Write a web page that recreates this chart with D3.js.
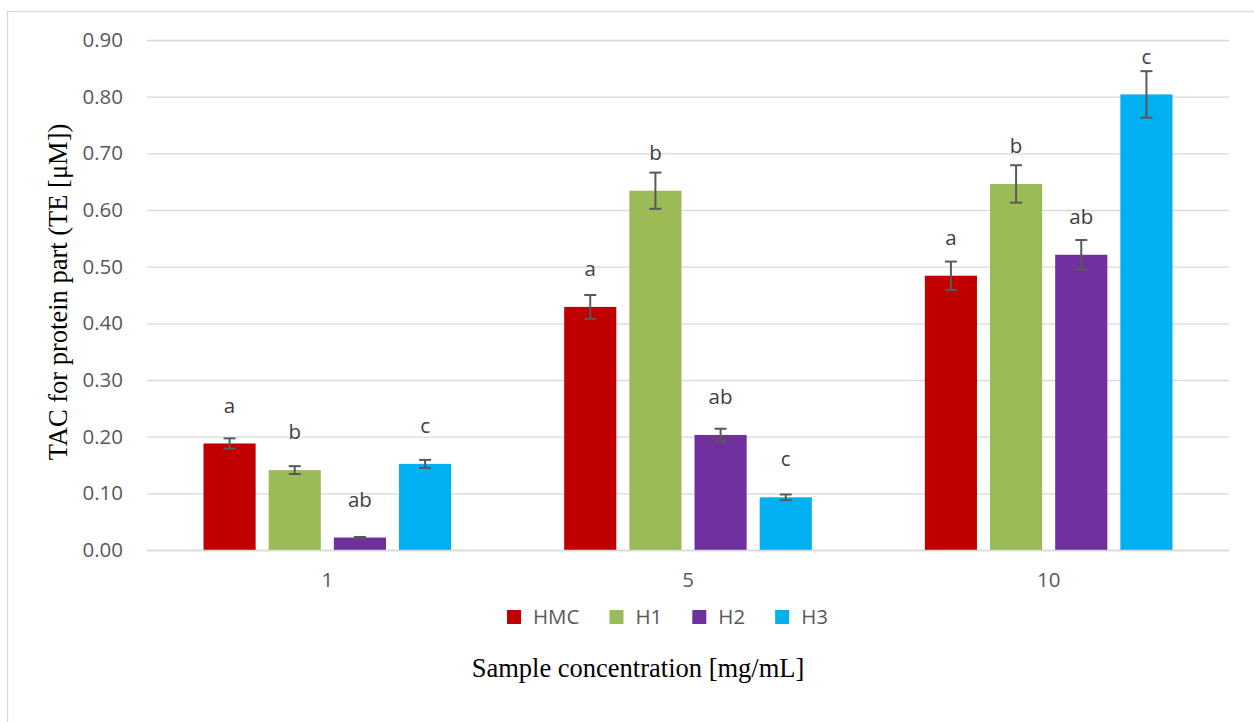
<!DOCTYPE html>
<html>
<head>
<meta charset="utf-8">
<script src="https://cdn.jsdelivr.net/npm/d3@7"></script>
<style>
  html, body { margin: 0; padding: 0; background: #fff; }
  svg { display: block; }
</style>
</head>
<body>
<svg id="chart" width="1254" height="722"></svg>
<script>
// ---- data ----
const categories = ["1", "5", "10"];
const seriesNames = ["HMC", "H1", "H2", "H3"];
const seriesColors = ["#C00000", "#9BBB59", "#7030A0", "#00B0F0"];
const valuesHMC = [0.188, 0.429, 0.484];
const valuesH1  = [0.141, 0.634, 0.646];
const valuesH2  = [0.022, 0.203, 0.521];
const valuesH3  = [0.152, 0.093, 0.804];
const errHMC = [0.009, 0.021, 0.025];
const errH1  = [0.007, 0.032, 0.033];
const errH2  = [0.001, 0.011, 0.026];
const errH3  = [0.007, 0.005, 0.041];
const letters = ["a", "b", "ab", "c"];
const yTicks = [0, 0.1, 0.2, 0.3, 0.4, 0.5, 0.6, 0.7, 0.8, 0.9];
const yTitle = "TAC for protein part (TE [μM])";
const xTitle = "Sample concentration [mg/mL]";

const values = [valuesHMC, valuesH1, valuesH2, valuesH3];
const errs = [errHMC, errH1, errH2, errH3];

// ---- layout ----
const svg = d3.select("#chart");
const plot = { left: 147, right: 1229, top: 40, bottom: 550 };
const sans = "'Open Sans', sans-serif";
const fs = "20.5px";

// outer border
svg.append("rect")
  .attr("x", 7.5).attr("y", 11.5)
  .attr("width", 1300).attr("height", 800)
  .attr("fill", "#fff").attr("stroke", "#d9d9d9").attr("stroke-width", 1.3);

const x0 = d3.scaleBand().domain(categories).range([plot.left, plot.right]).paddingInner(0).paddingOuter(0);
const x1 = d3.scaleBand().domain(seriesNames).range([56.5, x0.bandwidth() - 56.5]).paddingInner(0.2).paddingOuter(0);
const y = d3.scaleLinear().domain([0, 0.9]).range([plot.bottom, plot.top]);

// gridlines
const yAxis = d3.axisLeft(y).tickValues(yTicks).tickFormat(d3.format(".2f"))
  .tickSize(-(plot.right - plot.left)).tickPadding(24);
const gy = svg.append("g").attr("transform", `translate(${plot.left},0)`).call(yAxis);
gy.select(".domain").remove();
gy.selectAll(".tick line").attr("stroke", "#d9d9d9").attr("stroke-width", 1.3);
gy.selectAll(".tick text")
  .attr("fill", "#595959")
  .style("font-family", sans)
  .style("font-size", fs);

// bars
const groups = svg.append("g").selectAll("g")
  .data(categories)
  .join("g")
  .attr("transform", d => `translate(${x0(d)},0)`);

seriesNames.forEach((s, si) => {
  groups.append("rect")
    .attr("x", x1(s))
    .attr("y", (d, ci) => y(values[si][ci]))
    .attr("width", x1.bandwidth())
    .attr("height", (d, ci) => y(0) - y(values[si][ci]))
    .attr("fill", seriesColors[si]);
});

// baseline axis
svg.append("line")
  .attr("x1", plot.left).attr("x2", plot.right)
  .attr("y1", y(0) + 0.5).attr("y2", y(0) + 0.5)
  .attr("stroke", "#d9d9d9").attr("stroke-width", 1.5);

// error bars
seriesNames.forEach((s, si) => {
  const g = groups.append("g").attr("stroke", "#595959").attr("stroke-width", 2);
  const cx = x1(s) + x1.bandwidth() / 2;
  g.append("line")
    .attr("x1", cx).attr("x2", cx)
    .attr("y1", (d, ci) => y(values[si][ci] + errs[si][ci]))
    .attr("y2", (d, ci) => y(values[si][ci] - errs[si][ci]));
  g.append("line")
    .attr("x1", cx - 6).attr("x2", cx + 6)
    .attr("y1", (d, ci) => y(values[si][ci] + errs[si][ci]))
    .attr("y2", (d, ci) => y(values[si][ci] + errs[si][ci]));
  g.append("line")
    .attr("x1", cx - 6).attr("x2", cx + 6)
    .attr("y1", (d, ci) => y(values[si][ci] - errs[si][ci]))
    .attr("y2", (d, ci) => y(values[si][ci] - errs[si][ci]));
});

// letter labels
seriesNames.forEach((s, si) => {
  groups.append("text")
    .attr("x", x1(s) + x1.bandwidth() / 2)
    .attr("y", (d, ci) => y(values[si][ci]) - 38)
    .attr("dy", "0.35em")
    .attr("text-anchor", "middle")
    .attr("fill", "#404040")
    .style("font-family", sans)
    .style("font-size", fs)
    .text(letters[si]);
});

// category labels
const xAxis = d3.axisBottom(x0).tickSize(0).tickPadding(22);
const gx = svg.append("g").attr("transform", `translate(0,${plot.bottom})`).call(xAxis);
gx.select(".domain").remove();
gx.selectAll(".tick text")
  .attr("fill", "#595959")
  .style("font-family", sans)
  .style("font-size", fs);

// legend
const legend = svg.append("g").attr("transform", "translate(507,617)");
let lx = 0;
seriesNames.forEach((s, si) => {
  legend.append("rect").attr("x", lx).attr("y", -7).attr("width", 14).attr("height", 14).attr("fill", seriesColors[si]);
  const t = legend.append("text")
    .attr("x", lx + 26).attr("y", 0).attr("dy", "0.35em")
    .attr("fill", "#595959")
    .style("font-family", sans)
    .style("font-size", fs)
    .text(s);
  lx += 26 + t.node().getComputedTextLength() + 30;
});

// axis titles
svg.append("text")
  .attr("x", 638).attr("y", 677)
  .attr("text-anchor", "middle")
  .attr("fill", "#000")
  .style("font-family", "'Liberation Serif', 'Times New Roman', serif")
  .style("font-size", "26.5px")
  .text(xTitle);

svg.append("text")
  .attr("transform", "translate(67,292) rotate(-90)")
  .attr("text-anchor", "middle")
  .attr("fill", "#000")
  .style("font-family", "'Liberation Serif', 'Times New Roman', serif")
  .style("font-size", "26.5px")
  .text(yTitle);
</script>
</body>
</html>
